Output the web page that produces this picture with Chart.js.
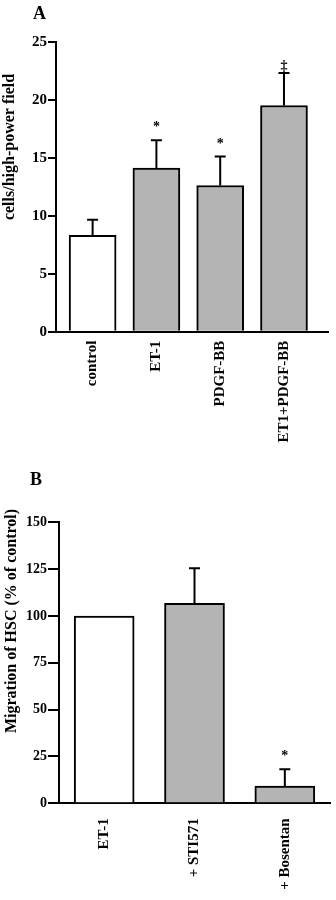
<!DOCTYPE html>
<html>
<head>
<meta charset="utf-8">
<script src="https://cdn.jsdelivr.net/npm/chart.js@4.4.0/dist/chart.umd.min.js"></script>
<style>
  body { margin: 0; background: #fff; width: 336px; height: 900px; overflow: hidden; }
  .panel { position: absolute; left: 0; width: 336px; height: 450px; }
</style>
</head>
<body>
<div class="panel" style="top:0"><canvas id="chartA" width="336" height="450"></canvas></div>
<div class="panel" style="top:450px"><canvas id="chartB" width="336" height="450"></canvas></div>
<script>
// panel A data
const labelsA = ['control', 'ET-1', 'PDGF-BB', 'ET1+PDGF-BB'];
const meansA = [8.3, 14.1, 12.6, 19.5];
const errorsA = [1.35, 2.4, 2.5, 2.8];
const marksA = ['', '*', '*', '\u2021'];
const ticksA = [0, 5, 10, 15, 20, 25];

// panel B data
const labelsB = ['ET-1', '+ STI571', '+ Bosentan'];
const meansB = [100, 106.8, 9.2];
const errorsB = [0, 18.7, 9];
const marksB = ['', '', '*'];
const ticksB = [0, 25, 50, 75, 100, 125, 150];

const serif = '"Liberation Serif", "Times New Roman", serif';
const GRAY = '#b4b4b4';

// error bars, significance marks, panel letter and y title
const extrasPlugin = {
  id: 'extras',
  afterDatasetsDraw(chart, args, opts) {
    const ctx = chart.ctx;
    const y = chart.scales.y;
    const bars = chart.getDatasetMeta(0).data;
    const data = chart.data.datasets[0].data;
    ctx.save();
    ctx.strokeStyle = '#000';
    ctx.fillStyle = '#000';
    ctx.lineWidth = 2;
    bars.forEach((bar, i) => {
      const top = y.getPixelForValue(data[i].y + opts.errors[i]);
      if (opts.errors[i] > 0) {
        ctx.beginPath();
        ctx.moveTo(bar.x, bar.y);
        ctx.lineTo(bar.x, top);
        ctx.moveTo(bar.x - 5.5, top);
        ctx.lineTo(bar.x + 5.5, top);
        ctx.stroke();
      }
      if (opts.marks[i]) {
        ctx.font = 'bold 14px ' + serif;
        ctx.textAlign = 'center';
        ctx.textBaseline = 'alphabetic';
        const lift = opts.marks[i] === '*' ? 9 : 3;
        ctx.fillText(opts.marks[i], bar.x, top - lift);
      }
    });
    ctx.restore();
  },
  afterDraw(chart, args, opts) {
    const ctx = chart.ctx;
    ctx.save();
    ctx.fillStyle = '#000';
    ctx.font = 'bold 18px ' + serif;
    ctx.textAlign = 'left';
    ctx.textBaseline = 'alphabetic';
    ctx.fillText(opts.letter, opts.letterX, opts.letterY);
    ctx.translate(opts.titleX, opts.titleY);
    ctx.rotate(-Math.PI / 2);
    ctx.font = 'bold 16px ' + serif;
    ctx.textAlign = 'center';
    ctx.textBaseline = 'middle';
    ctx.fillText(opts.title, 0, 0);
    ctx.restore();
  }
};

function barChart(id, cfg) {
  return new Chart(document.getElementById(id), {
    type: 'bar',
    data: {
      datasets: [{
        data: cfg.labels.map((l, i) => ({ x: i, y: cfg.means[i] })),
        backgroundColor: cfg.fills,
        borderColor: '#000',
        borderWidth: 2,
        borderSkipped: 'bottom',
        barThickness: cfg.barWidth
      }]
    },
    options: {
      responsive: false,
      animation: false,
      layout: { padding: cfg.padding },
      plugins: {
        legend: { display: false },
        tooltip: { enabled: false },
        extras: cfg.extras
      },
      scales: {
        x: {
          type: 'linear',
          bounds: 'data',
          offset: false,
          min: cfg.xMin,
          max: cfg.xMax,
          grid: { display: false },
          border: { color: '#000', width: 2 },
          afterBuildTicks: s => { s.ticks = cfg.labels.map((l, i) => ({ value: i })); },
          afterFit: s => { s.height = cfg.xHeight; },
          ticks: {
            color: '#000',
            font: { family: serif, size: 15, weight: 'bold' },
            minRotation: 90,
            maxRotation: 90,
            padding: cfg.xPad,
            callback: v => cfg.labels[v]
          }
        },
        y: {
          min: cfg.ticks[0],
          max: cfg.ticks[cfg.ticks.length - 1],
          grid: { drawOnChartArea: false, drawTicks: true, tickLength: cfg.tickLen, color: '#000', lineWidth: 2 },
          border: { color: '#000', width: 2 },
          afterBuildTicks: s => { s.ticks = cfg.ticks.map(v => ({ value: v })); },
          afterFit: s => { s.width = cfg.yWidth; },
          ticks: {
            color: '#000',
            font: { family: serif, size: cfg.yFont, weight: 'bold' },
            padding: 1
          }
        }
      }
    },
    plugins: [extrasPlugin]
  });
}

barChart('chartA', {
  labels: labelsA, means: meansA, ticks: ticksA,
  fills: ['#fff', GRAY, GRAY, GRAY],
  barWidth: 47,
  xMin: -0.574, xMax: 3.69,
  padding: { top: 41.7, right: 8, bottom: 0, left: 0 },
  xHeight: 118.3, xPad: 1,
  yWidth: 56, tickLen: 8, yFont: 15,
  extras: { errors: errorsA, marks: marksA, letter: 'A', letterX: 33, letterY: 19,
            title: 'cells/high-power field', titleX: 10, titleY: 147 }
});

barChart('chartB', {
  labels: labelsB, means: meansB, ticks: ticksB,
  fills: ['#fff', GRAY, GRAY],
  barWidth: 60,
  xMin: -0.5, xMax: 2.5,
  padding: { top: 72.3, right: 6, bottom: 0, left: 0 },
  xHeight: 96.7, xPad: 7,
  yWidth: 59, tickLen: 11, yFont: 14,
  extras: { errors: errorsB, marks: marksB, letter: 'B', letterX: 30, letterY: 35,
            title: 'Migration of HSC (% of control)', titleX: 12, titleY: 171 }
});
</script>
</body>
</html>
